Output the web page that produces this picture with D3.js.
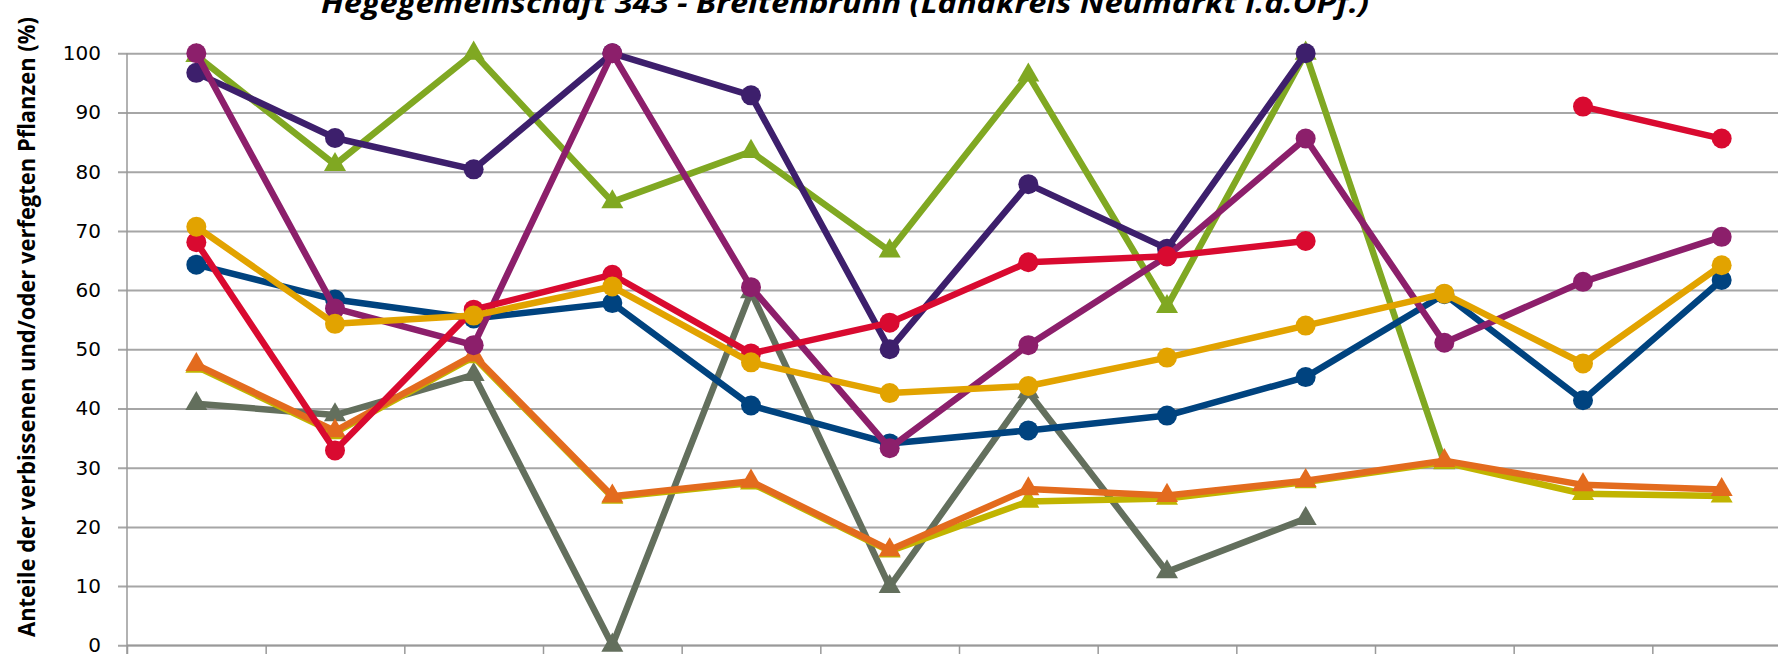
<!DOCTYPE html>
<html>
<head>
<meta charset="utf-8">
<script src="https://cdn.jsdelivr.net/npm/d3@7"></script>
<style>
  body { margin: 0; background: #fff; }
  svg { display: block; }
  .grid line { stroke: #a6a6a6; stroke-width: 2; }
  .grid path { display: none; }
  .axis path, .axis line { stroke: #999; stroke-width: 1.5; }
  .axis text { font-family: "DejaVu Sans", Verdana, sans-serif; font-size: 20px; fill: #000; }
</style>
</head>
<body>
<div id="chart"></div>
<script>
"use strict";

var width = 1778;
var height = 654;

var title = "Hegegemeinschaft 343 - Breitenbrunn (Landkreis Neumarkt i.d.OPf.)";
var yLabel = "Anteile der verbissenen und/oder verfegten Pflanzen (%)";

// x labels sit below the visible area in the reference
var categories = ["1", "2", "3", "4", "5", "6", "7", "8", "9", "10", "11", "12"];
var yTicks = [0, 10, 20, 30, 40, 50, 60, 70, 80, 90, 100];

var blueValues    = [64.3, 58.4, 55.2, 57.8, 40.5, 34.1, 36.3, 38.8, 45.3, 59.3, 41.4, 61.7];
var redValues     = [68.1, 32.9, 56.7, 62.6, 49.3, 54.5, 64.7, 65.7, 68.3, null, 91.0, 85.6];
var goldValues    = [70.7, 54.3, 55.7, 60.6, 47.8, 42.6, 43.8, 48.6, 54.0, 59.4, 47.6, 64.2];
var purpleValues  = [96.7, 85.7, 80.4, 100, 92.9, 50.0, 77.9, 67.0, 100, null, null, null];
var magentaValues = [100, 56.9, 50.7, 100, 60.5, 33.3, 50.7, 65.7, 85.6, 51.1, 61.4, 69.0];
var greenValues   = [99.6, 81.2, 100, 74.9, 83.4, 66.6, 96.3, 57.2, 100, 30.8, null, null];
var greyValues    = [40.8, 38.9, 45.7, 0, 59.7, 9.9, 42.8, 12.4, 21.4, null, null, null];
var oliveValues   = [47.1, 35.9, 48.7, 25.0, 27.4, 15.9, 24.3, 24.8, 27.6, 30.9, 25.6, 25.2];
var orangeValues  = [47.4, 36.2, 49.0, 25.2, 27.7, 16.1, 26.4, 25.3, 27.8, 31.2, 27.1, 26.3];

// bottom to top drawing order
var series = [
   { values: greenValues,   color: "#80a822", marker: "triangle" },
   { values: greyValues,    color: "#636f5d", marker: "triangle" },
   { values: oliveValues,   color: "#c1b400", marker: "triangle" },
   { values: orangeValues,  color: "#e36b1e", marker: "triangle" },
   { values: purpleValues,  color: "#3d1f6c", marker: "circle" },
   { values: blueValues,    color: "#00437f", marker: "circle" },
   { values: magentaValues, color: "#8c1f6b", marker: "circle" },
   { values: redValues,     color: "#d90a30", marker: "circle" },
   { values: goldValues,    color: "#e2a300", marker: "circle" }
];

var plotLeft = 127;
var plotRight = 1791;
var plotTop = 53.3;
var plotBottom = 645.3;

var xEdge = d3.scaleLinear()
              .domain([0, categories.length])
              .range([plotLeft, plotRight]);

var xScale = function(i) { return xEdge(i + 0.5); };

var yScale = d3.scaleLinear()
               .domain([0, 100])
               .range([plotBottom, plotTop]);

var svg = d3.select("#chart")
            .append("svg")
            .attr("width", width)
            .attr("height", height);

// gridlines (start left of axis, like the tick marks)
var grid = svg.append("g")
   .attr("class", "grid")
   .attr("transform", "translate(" + plotLeft + ",0)")
   .call(d3.axisLeft(yScale).tickValues(yTicks).tickSize(-(plotRight - plotLeft)).tickFormat(""));
grid.selectAll("line").attr("x1", -9);

// y axis
svg.append("g")
   .attr("class", "axis")
   .attr("transform", "translate(" + plotLeft + ",0)")
   .call(d3.axisLeft(yScale).tickValues(yTicks).tickSize(0).tickPadding(26))
   .select(".domain").attr("d", "M0," + plotTop + "V" + (plotBottom + 12));

// x axis, ticks between categories
svg.append("g")
   .attr("class", "axis")
   .attr("transform", "translate(0," + plotBottom + ")")
   .call(d3.axisBottom(xEdge).tickValues(d3.range(categories.length + 1)).tickSize(12).tickFormat(""))
   .select(".domain").attr("d", "M" + plotLeft + ",0H" + plotRight);

var line = d3.line()
   .defined(function(d) { return d != null; })
   .x(function(d, i) { return xScale(i); })
   .y(function(d) { return yScale(d); });

var triangle = d3.symbol().type(d3.symbolTriangle).size(210);

series.forEach(function(s) {
   var g = svg.append("g");

   g.append("path")
      .attr("d", line(s.values))
      .attr("fill", "none")
      .attr("stroke", s.color)
      .attr("stroke-width", 6.5)
      .attr("stroke-linejoin", "round");

   var pts = s.values.map(function(d, i) { return { v: d, i: i }; })
                     .filter(function(p) { return p.v != null; });

   if (s.marker === "circle") {
      g.selectAll("circle")
         .data(pts)
         .enter()
         .append("circle")
         .attr("cx", function(p) { return xScale(p.i); })
         .attr("cy", function(p) { return yScale(p.v); })
         .attr("r", 10)
         .attr("fill", s.color);
   } else {
      g.selectAll(".tri")
         .data(pts)
         .enter()
         .append("path")
         .attr("class", "tri")
         .attr("d", triangle)
         .attr("transform", function(p) {
            return "translate(" + xScale(p.i) + "," + yScale(p.v) + ")";
         })
         .attr("fill", s.color);
   }
});

// title, top is cut off in the reference
svg.append("text")
   .attr("x", 845)
   .attr("y", 13)
   .attr("text-anchor", "middle")
   .attr("textLength", 1048)
   .attr("lengthAdjust", "spacingAndGlyphs")
   .style("font-family", "'Open Sans', 'Noto Sans', sans-serif")
   .style("font-size", "28px")
   .style("font-weight", "bold")
   .style("font-style", "italic")
   .text(title);

// y axis title
svg.append("text")
   .attr("transform", "translate(35,327) rotate(-90)")
   .attr("text-anchor", "middle")
   .attr("textLength", 620)
   .attr("lengthAdjust", "spacingAndGlyphs")
   .style("font-family", "'Open Sans', 'Noto Sans', sans-serif")
   .style("font-size", "23px")
   .style("font-weight", "bold")
   .text(yLabel);
</script>
</body>
</html>
